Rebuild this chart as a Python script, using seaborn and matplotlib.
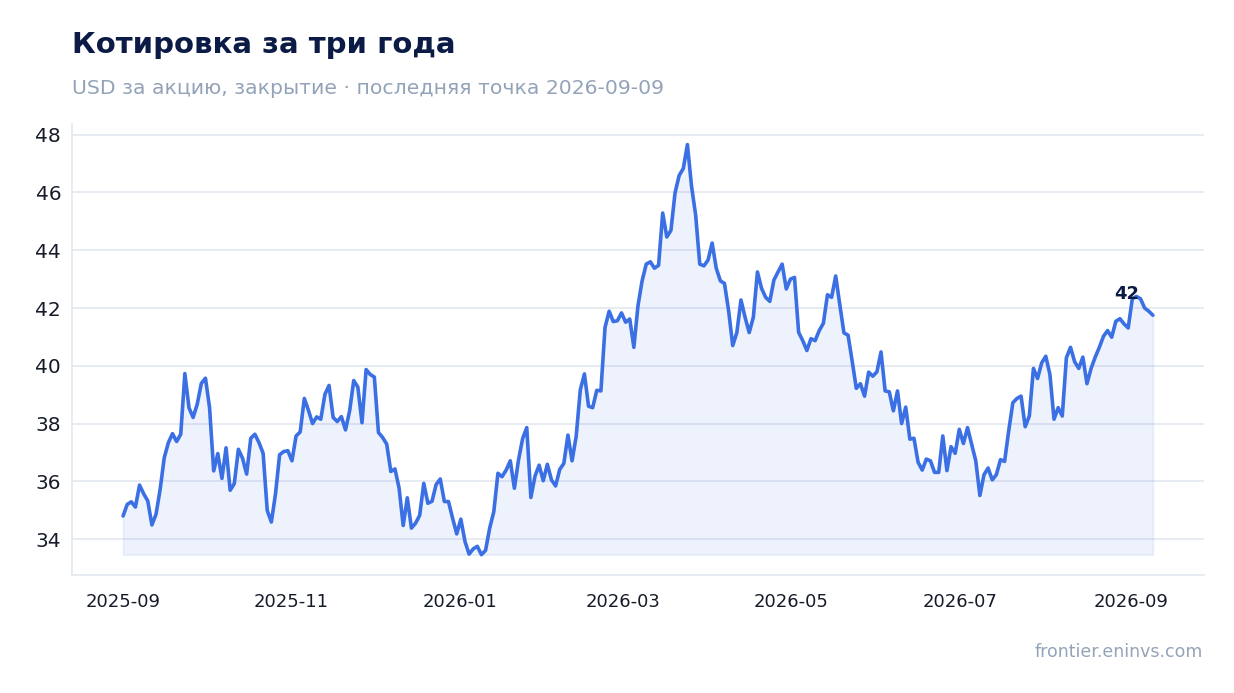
import numpy as np
import pandas as pd
import matplotlib
matplotlib.use("Agg")
import matplotlib.pyplot as plt
import seaborn as sns

# closing prices (USD)
prices = [
    34.80, 35.20, 35.29, 35.11, 35.87, 35.57, 35.32, 34.49, 34.86, 35.72,
    36.82, 37.34, 37.65, 37.38, 37.63, 39.73, 38.55, 38.21, 38.67, 39.39,
    39.57, 38.55, 36.36, 36.96, 36.10, 37.16, 35.69, 35.92, 37.11, 36.80,
    36.25, 37.49, 37.63, 37.34, 36.97, 34.99, 34.59, 35.56, 36.92, 37.03,
    37.06, 36.71, 37.57, 37.71, 38.87, 38.46, 38.00, 38.23, 38.15, 39.01,
    39.32, 38.21, 38.07, 38.24, 37.78, 38.44, 39.49, 39.26, 38.03, 39.87,
    39.70, 39.61,
    37.69, 37.52, 37.29, 36.34, 36.43, 35.77, 34.47, 35.43, 34.38, 34.55,
    34.82, 35.93, 35.24, 35.31, 35.89, 36.08,
    35.30, 35.30, 34.72, 34.18, 34.69, 33.92, 33.48, 33.66, 33.75, 33.46,
    33.61, 34.38, 34.95, 36.28, 36.16, 36.39, 36.71, 35.76, 36.74, 37.48,
    37.86, 35.44, 36.18, 36.56, 36.02, 36.59, 36.05, 35.84, 36.41, 36.62,
    37.60, 36.71, 37.56, 39.17, 39.72, 38.60, 38.55, 39.15, 39.13, 41.33,
    41.89, 41.53, 41.56, 41.83, 41.51, 41.62, 40.64, 42.08, 42.94, 43.52,
    43.60, 43.38, 43.48, 45.29, 44.46, 44.69, 45.99, 46.59, 46.83, 47.66,
    46.22, 45.22, 43.52, 43.46, 43.66, 44.25, 43.38, 42.94, 42.85, 41.91,
    40.70, 41.15, 42.28, 41.68, 41.15, 41.68, 43.25, 42.68, 42.37, 42.23,
    42.97, 43.25, 43.52, 42.66, 43.00, 43.06, 41.16, 40.87,
    40.53, 40.94, 40.87, 41.22, 41.47, 42.46, 42.37, 43.11, 42.11, 41.14,
    41.06, 40.16, 39.22, 39.38, 38.95, 39.78, 39.64, 39.79, 40.48, 39.13,
    39.10, 38.44, 39.13, 38.00, 38.57, 37.46, 37.49, 36.66, 36.39, 36.77,
    36.71, 36.31, 36.31, 37.57, 36.37, 37.20, 36.97, 37.80, 37.31, 37.86,
    37.29, 36.71, 35.51, 36.23, 36.46, 36.05, 36.23, 36.75, 36.69, 37.75,
    38.72, 38.87, 38.95, 37.89, 38.26, 39.91, 39.56, 40.10, 40.33, 39.70,
    38.15, 38.55, 38.26, 40.28, 40.64, 40.14, 39.91, 40.30, 39.38, 39.91,
    40.30, 40.64, 41.02, 41.22, 40.99, 41.54, 41.63, 41.45, 41.31, 42.32,
    42.40, 42.32, 42.00, 41.89, 41.75,
]
start_date = "2025-09-01"
end_date = "2026-09-09"
tick_dates = ["2025-09", "2025-11", "2026-01", "2026-03", "2026-05", "2026-07", "2026-09"]
y_ticks = [34, 36, 38, 40, 42, 44, 46, 48]

dates = pd.date_range(start_date, end_date, periods=len(prices))
df = pd.DataFrame({"date": dates, "close": prices})

line_col = "#3b6fe4"
navy = "#0b1b45"
grey = "#94a3b8"

sns.set_theme(style="white")
plt.rcParams["font.family"] = ["DejaVu Sans"]

fig = plt.figure(figsize=(12.34, 6.93), dpi=100)
ax = fig.add_axes([0.058, 0.170, 0.918, 0.651])

# shaded area under the price line
ax.fill_between(df["date"], df["close"], df["close"].min(),
                color=line_col, alpha=0.09, linewidth=1.2)
sns.lineplot(data=df, x="date", y="close", ax=ax, color=line_col, linewidth=2.6)

# last value label
last = df.iloc[-1]
ax.annotate(f"{last['close']:.0f}", (last["date"], last["close"]),
            xytext=(-19, 15), textcoords="offset points",
            ha="center", va="center", fontsize=13, fontweight="bold", color=navy)

ax.set_yticks(y_ticks)
ax.set_xticks(pd.to_datetime(tick_dates))
ax.set_xticklabels(tick_dates)
ax.tick_params(axis="y", labelsize=14.5, labelcolor="#161b29", length=4, color="#333a48", width=1.2)
ax.tick_params(axis="x", labelsize=13, labelcolor="#161b29", length=5, color="#333a48", width=1.2, pad=8)
ax.grid(axis="y", color="#e3e8f0", linewidth=1.2)
ax.grid(axis="x", visible=False)
for s in ["top", "right"]:
    ax.spines[s].set_visible(False)
for s in ["left", "bottom"]:
    ax.spines[s].set_color("#e3e8f0")
    ax.spines[s].set_linewidth(1.2)
ax.set_xlabel("")
ax.set_ylabel("")

fig.text(0.058, 0.935, "Котировка за три года", fontsize=21, fontweight="bold",
         color=navy, ha="left", va="center")
fig.text(0.058, 0.873, "USD за акцию, закрытие · последняя точка 2026-09-09",
         fontsize=14.7, color=grey, ha="left", va="center")
fig.text(0.975, 0.059, "frontier.eninvs.com", fontsize=12.5, color=grey,
         ha="right", va="center")

fig.savefig("out.png", dpi=100)
